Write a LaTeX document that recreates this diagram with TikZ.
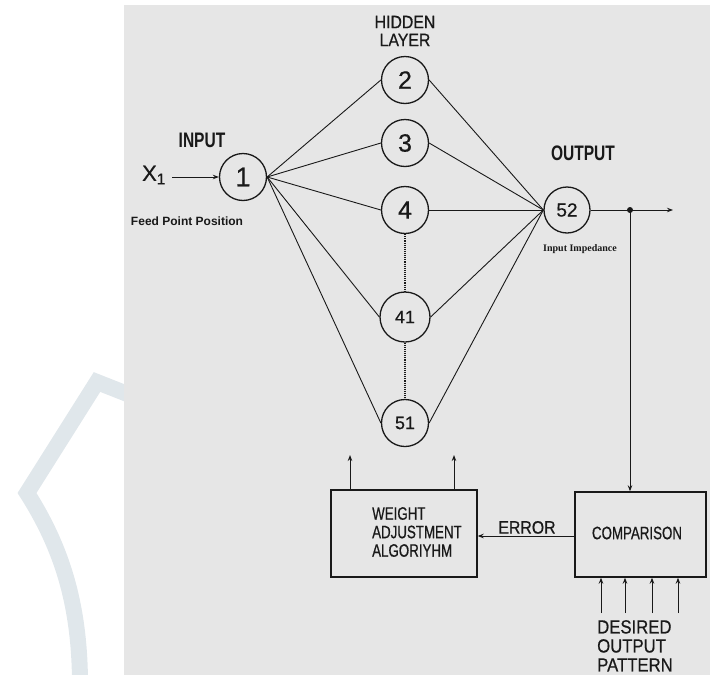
\documentclass[tikz,border=0pt]{standalone}
\usepackage{fontspec}
\setmainfont{Liberation Sans}
\newfontfamily\condf[FakeStretch=0.74,FakeBold=0.6]{Liberation Sans}
\newfontfamily\condbf[FakeStretch=0.74]{Liberation Sans Bold}
\newfontfamily\semif[FakeStretch=0.88,FakeBold=0.6]{Liberation Sans}
\newfontfamily\digf[FakeBold=0.5]{Liberation Sans}
\newfontfamily\serf{Liberation Serif}
\usetikzlibrary{arrows.meta,calc}
\definecolor{bg}{RGB}{230,230,230}
\definecolor{wm}{RGB}{224,231,235}
\definecolor{ink}{RGB}{25,25,25}
\begin{document}
\begin{tikzpicture}[x=1pt,y=-1pt,
  neuron/.style={circle,draw=ink,line width=1.3pt,minimum size=47pt,inner sep=0pt,text=ink},
  link/.style={draw=ink,line width=0.9pt},
  arr/.style={draw=ink,line width=1pt,-{Stealth[length=6pt,width=4.5pt]}},
  boxshape/.style={draw=ink,line width=1.4pt,rectangle,inner sep=0pt},
  lbl/.style={text=ink,inner sep=0pt},
  big/.style={font=\digf\fontsize{25}{25}\selectfont},
  small/.style={font=\digf\fontsize{18}{18}\selectfont}
]
\useasboundingbox (0,0) rectangle (710,675);
\draw[wm,line width=16pt,line join=miter] (135,397) -- (97,382) -- (27,493) .. controls (62,548) and (80,605) .. (80,685);
\fill[bg] (124,5) rectangle (710,675);

% neurons
\node[neuron,font=\digf\fontsize{27}{27}\selectfont] (n1) at (243,177) {1};
\node[neuron,big] (n2) at (405,80) {2};
\node[neuron,big] (n3) at (405,143) {3};
\node[neuron,big] (n4) at (405,210) {4};
\node[neuron,small,minimum size=50pt] (n41) at (405,317) {41};
\node[neuron,small] (n51) at (405,423) {51};
\node[neuron,font=\digf\fontsize{19}{19}\selectfont,minimum size=46pt] (n52) at (567,210) {52};

% connections
\foreach \h in {n2,n3,n4,n41,n51}{
  \draw[link] (n1.east) -- (\h.west);
  \draw[link] (\h.east) -- (n52.west);
}
\draw[ink,line width=1.1pt,densely dotted] (n4.south) -- (n41.north);
\draw[ink,line width=1.1pt,densely dotted] (n41.south) -- (n51.north);

% input
\node[lbl,font=\digf\fontsize{22}{22}\selectfont] (x1) at (154,175) {X\textsubscript{1}};
\coordinate (xin) at (172,177);
\draw[arr] (xin) -- (n1.west);
\node[lbl,font=\condbf\fontsize{21}{21}\selectfont] (inl) at (202,140) {INPUT};
\node[lbl,font=\bfseries\fontsize{12}{12}\selectfont] (fpp) at (187,221) {Feed Point Position};

% hidden label
\node[lbl,font=\semif\fontsize{18}{18}\selectfont] (hid) at (405,22) {HIDDEN};
\node[lbl,font=\semif\fontsize{18}{18}\selectfont] (lay) at (405,40) {LAYER};

% output
\node[lbl,font=\condbf\fontsize{21}{21}\selectfont] (outl) at (583,153) {OUTPUT};
\node[lbl,font=\serf\bfseries\fontsize{10}{10}\selectfont] (imp) at (580,249) {Input Impedance};
\coordinate (dot) at (630,210);
\coordinate (oend) at (673,210);
\draw[link] (n52.east) -- (dot);
\draw[arr] (dot) -- (oend);
\fill[ink] (dot) circle (3pt);

% boxes
\node[boxshape,minimum width=146pt,minimum height=87pt] (wbox) at (404,533.5) {};
\node[lbl,align=left,anchor=west,font=\condf\fontsize{18}{18.5}\selectfont] (wtxt) at (372,532) {WEIGHT\\ADJUSTMENT\\ALGORIYHM};
\node[boxshape,minimum width=131pt,minimum height=85pt] (cbox) at (640.5,534.5) {};
\node[lbl,font=\condf\fontsize{18}{18}\selectfont] (ctxt) at (637,533) {COMPARISON};

\draw[arr] (dot) -- (dot |- cbox.north);
\draw[arr] (cbox.west |- 0,536) -- (wbox.east |- 0,536);
\node[lbl,anchor=south,font=\semif\fontsize{18}{18}\selectfont] (err) at (527,534) {ERROR};

\coordinate (w1) at (350,455);
\coordinate (w2) at (454,455);
\draw[arr] (wbox.north -| w1) -- (w1);
\draw[arr] (wbox.north -| w2) -- (w2);

\foreach \x [count=\i] in {601,625,652,678}{
  \coordinate (d\i) at (\x,613);
  \draw[arr] (d\i) -- (d\i |- cbox.south);
}
\node[lbl,align=left,anchor=north west,font=\semif\fontsize{19}{19}\selectfont] (des) at (597,620) {DESIRED\\OUTPUT\\PATTERN};
\end{tikzpicture}
\end{document}
